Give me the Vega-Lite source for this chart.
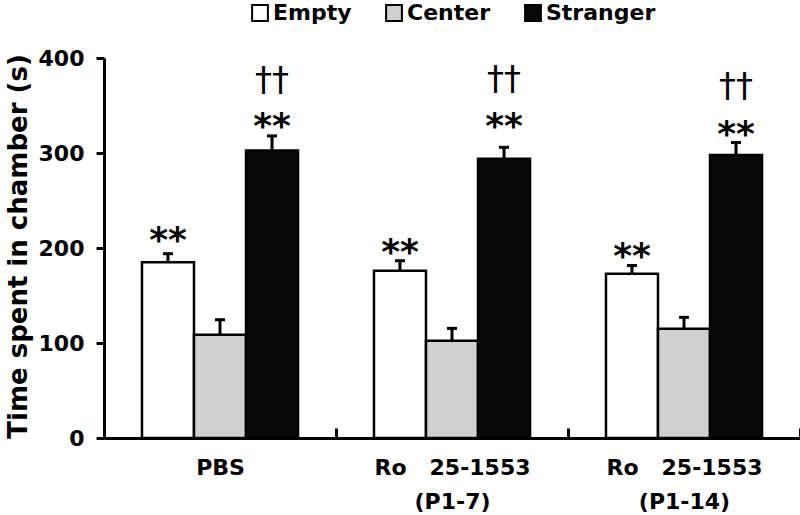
{
  "$schema": "https://vega.github.io/schema/vega-lite/v6.json",
  "autosize": {"type": "none"},
  "padding": {"left": 104, "top": 58, "right": 0, "bottom": 77},
  "width": 696,
  "height": 380,
  "background": "white",
  "config": {
    "font": "DejaVu Sans",
    "view": {"stroke": null},
    "axis": {"labelColor": "black", "titleColor": "black", "domainColor": "black", "tickColor": "black", "grid": false}
  },
  "datasets": {
    "bars": [
      {"group": "PBS", "cond": "Empty", "value": 185, "err": 194},
      {"group": "PBS", "cond": "Center", "value": 108.7, "err": 124.5},
      {"group": "PBS", "cond": "Stranger", "value": 302.7, "err": 318},
      {"group": "Ro\u00a0\u00a0\u00a025-1553|(P1-7)", "cond": "Empty", "value": 176, "err": 186.6},
      {"group": "Ro\u00a0\u00a0\u00a025-1553|(P1-7)", "cond": "Center", "value": 102.4, "err": 115.4},
      {"group": "Ro\u00a0\u00a0\u00a025-1553|(P1-7)", "cond": "Stranger", "value": 294, "err": 306},
      {"group": "Ro\u00a0\u00a0\u00a025-1553|(P1-14)", "cond": "Empty", "value": 173, "err": 181.6},
      {"group": "Ro\u00a0\u00a0\u00a025-1553|(P1-14)", "cond": "Center", "value": 115, "err": 127},
      {"group": "Ro\u00a0\u00a0\u00a025-1553|(P1-14)", "cond": "Stranger", "value": 298, "err": 311}
    ],
    "stars": [
      {"group": "PBS", "cond": "Empty", "pos": 217, "mark": "**"},
      {"group": "PBS", "cond": "Stranger", "pos": 337, "mark": "**"},
      {"group": "Ro\u00a0\u00a0\u00a025-1553|(P1-7)", "cond": "Empty", "pos": 204, "mark": "**"},
      {"group": "Ro\u00a0\u00a0\u00a025-1553|(P1-7)", "cond": "Stranger", "pos": 337, "mark": "**"},
      {"group": "Ro\u00a0\u00a0\u00a025-1553|(P1-14)", "cond": "Empty", "pos": 200, "mark": "**"},
      {"group": "Ro\u00a0\u00a0\u00a025-1553|(P1-14)", "cond": "Stranger", "pos": 328, "mark": "**"}
    ],
    "daggers": [
      {"group": "PBS", "cond": "Stranger", "pos": 376, "mark": "††"},
      {"group": "Ro\u00a0\u00a0\u00a025-1553|(P1-7)", "cond": "Stranger", "pos": 377, "mark": "††"},
      {"group": "Ro\u00a0\u00a0\u00a025-1553|(P1-14)", "cond": "Stranger", "pos": 369, "mark": "††"}
    ]
  },
  "layer": [
    {
      "data": {"name": "bars"},
      "mark": {"type": "bar", "stroke": "black", "strokeWidth": 2.5},
      "encoding": {
        "x": {
          "field": "group", "type": "nominal",
          "scale": {"domain": ["PBS", "Ro\u00a0\u00a0\u00a025-1553|(P1-7)", "Ro\u00a0\u00a0\u00a025-1553|(P1-14)"], "paddingInner": 0, "paddingOuter": 0},
          "axis": {
            "title": null, "labelAngle": 0, "labelExpr": "split(datum.label, '|')",
            "labelFont": "DejaVu Sans", "labelFontWeight": "bold", "labelFontSize": 22,
            "labelBaseline": "top", "labelLineHeight": 34, "labelPadding": 29,
            "tickBand": "extent", "tickSize": -10, "tickWidth": 3, "domainWidth": 3
          }
        },
        "xOffset": {
          "field": "cond", "type": "nominal",
          "scale": {"domain": ["Empty", "Center", "Stranger"], "paddingInner": 0, "paddingOuter": 0.73}
        },
        "y": {
          "field": "value", "type": "quantitative",
          "scale": {"domain": [0, 400], "nice": false},
          "axis": {
            "title": "Time spent in chamber (s)", "values": [0, 100, 200, 300, 400],
            "labelFont": "DejaVu Sans", "labelFontWeight": "bold", "labelFontSize": 22, "labelPadding": 12,
            "tickSize": 8, "tickWidth": 3, "domainWidth": 3,
            "titleFont": "DejaVu Sans", "titleFontWeight": "bold", "titleFontSize": 26,
            "titleX": -73, "titleY": 188, "titleAngle": -90, "titleBaseline": "bottom", "titleAlign": "center"
          }
        },
        "fill": {
          "field": "cond", "type": "nominal",
          "scale": {"domain": ["Empty", "Center", "Stranger"], "range": ["#ffffff", "#d0d0d0", "#080808"]},
          "legend": {
            "orient": "none", "legendX": 145, "legendY": -56, "direction": "horizontal", "title": null,
            "symbolType": "square", "symbolSize": 250, "symbolStrokeColor": "black", "symbolStrokeWidth": 2,
            "labelFont": "DejaVu Sans", "labelFontWeight": "bold", "labelFontSize": 22, "labelColor": "black",
            "labelOffset": 2, "columnPadding": 30, "gridAlign": "none", "symbolOpacity": 1
          }
        }
      }
    },
    {
      "data": {"name": "bars"},
      "mark": {"type": "rule", "color": "black", "strokeWidth": 3},
      "encoding": {
        "x": {"field": "group", "type": "nominal"},
        "xOffset": {"field": "cond", "type": "nominal"},
        "y": {"field": "value", "type": "quantitative"},
        "y2": {"field": "err"}
      }
    },
    {
      "data": {"name": "bars"},
      "mark": {"type": "tick", "orient": "horizontal", "color": "black", "size": 10, "thickness": 3, "opacity": 1},
      "encoding": {
        "x": {"field": "group", "type": "nominal"},
        "xOffset": {"field": "cond", "type": "nominal"},
        "y": {"field": "err", "type": "quantitative"}
      }
    },
    {
      "data": {"name": "stars"},
      "mark": {"type": "text", "font": "DejaVu Sans", "fontWeight": "bold", "fontSize": 36, "color": "black", "baseline": "alphabetic", "dy": 20},
      "encoding": {
        "x": {"field": "group", "type": "nominal"},
        "xOffset": {"field": "cond", "type": "nominal"},
        "y": {"field": "pos", "type": "quantitative"},
        "text": {"field": "mark"}
      }
    },
    {
      "data": {"name": "daggers"},
      "mark": {"type": "text", "font": "DejaVu Sans", "fontSize": 34, "color": "black", "baseline": "alphabetic", "dy": 10},
      "encoding": {
        "x": {"field": "group", "type": "nominal"},
        "xOffset": {"field": "cond", "type": "nominal"},
        "y": {"field": "pos", "type": "quantitative"},
        "text": {"field": "mark"}
      }
    }
  ]
}
